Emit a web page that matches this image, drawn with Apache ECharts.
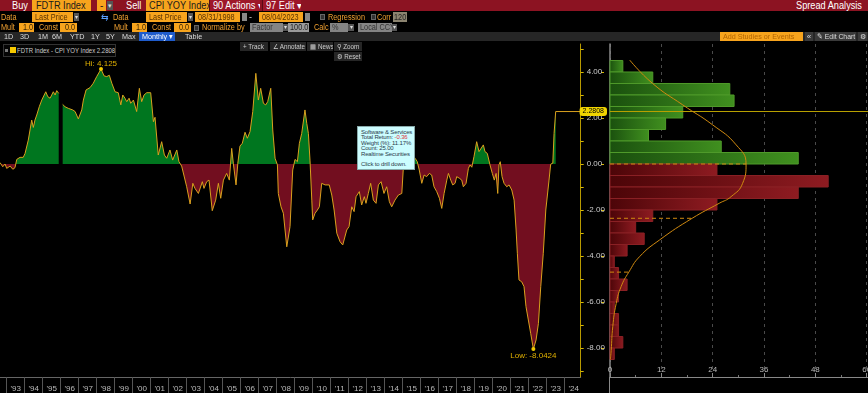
<!DOCTYPE html>
<html><head><meta charset="utf-8">
<script src="https://cdn.jsdelivr.net/npm/echarts@6/dist/echarts.min.js"></script>
<style>
html,body{margin:0;padding:0;background:#000;width:868px;height:393px;overflow:hidden;font-family:"Liberation Sans",Arial,sans-serif;}
#chart{position:absolute;left:0;top:0;width:868px;height:393px;}
.a{position:absolute;white-space:nowrap;overflow:hidden;box-sizing:border-box;z-index:5;}
.a span{display:inline-block;transform-origin:left center;}
</style></head>
<body>
<div id="chart"></div>
<script>
// ---------- DATA ----------
const dates = [1992.63,1992.78,1992.91,1993.00,1993.19,1993.34,1993.46,1993.56,1993.74,1993.92,
1994.02,1994.20,1994.39,1994.48,1994.57,1994.67,1994.81,1994.95,1995.04,1995.17,
1995.28,1995.41,1995.59,1995.69,1995.78,1995.89,1995.99,1996.11,1996.24,1996.42,
1996.52,1996.67,1996.80,1996.98,1997.17,1997.26,1997.41,1997.63,1997.81,1998.00,
1998.24,1998.41,1998.56,1998.70,1998.84,1999.02,1999.20,1999.34,1999.45,1999.57,
1999.67,1999.80,1999.89,2000.04,2000.22,2000.37,2000.50,2000.63,2000.78,2001.00,
2001.15,2001.24,2001.42,2001.61,2001.76,2001.89,2002.07,2002.22,2002.31,2002.45,
2002.57,2002.72,2002.81,2003.00,2003.19,2003.34,2003.46,2003.65,2003.87,2003.96,
2004.11,2004.24,2004.42,2004.61,2004.76,2004.89,2005.04,2005.22,2005.37,2005.50,
2005.59,2005.74,2005.84,2005.96,2006.09,2006.24,2006.37,2006.52,2006.67,2006.84,
2006.98,2007.11,2007.26,2007.39,2007.50,2007.67,2007.78,2007.91,2008.04,2008.09,
2008.24,2008.37,2008.56,2008.74,2008.89,2009.02,2009.15,2009.26,2009.39,2009.57,
2009.67,2009.76,2009.85,2009.95,2010.00,2010.13,2010.26,2010.37,2010.50,2010.69,
2010.92,2011.06,2011.19,2011.34,2011.52,2011.67,2011.76,2011.89,2012.02,2012.17,
2012.30,2012.41,2012.59,2012.72,2012.87,2012.96,2013.09,2013.22,2013.37,2013.52,
2013.65,2013.80,2013.96,2014.11,2014.26,2014.39,2014.57,2014.76,2014.95,2015.04,
2015.24,2015.46,2015.69,2015.81,2015.92,2016.06,2016.19,2016.33,2016.48,2016.61,
2016.74,2016.89,2017.04,2017.17,2017.30,2017.45,2017.54,2017.67,2017.78,2017.91,
2018.00,2018.15,2018.28,2018.37,2018.52,2018.65,2018.74,2018.84,2018.96,2019.11,
2019.24,2019.35,2019.48,2019.57,2019.70,2019.85,2019.98,2020.09,2020.19,2020.28,
2020.35,2020.42,2020.52,2020.63,2020.78,2020.91,2021.06,2021.19,2021.30,2021.37,
2021.46,2021.61,2021.74,2021.85,2021.98,2022.11,2022.26,2022.41,2022.54,2022.67,
2022.81,2022.95,2023.04,2023.13,2023.22,2023.34,2023.41,2023.50];
const spread = [0.06,-0.12,0.0,-0.19,-0.09,-0.23,-0.16,0.2,0.29,0.29,
0.46,1.04,1.91,1.59,1.91,2.13,2.49,2.78,2.71,3.14,
2.93,2.86,3.14,3.0,3.19,3.07,null,2.59,2.49,2.42,
2.49,2.35,2.28,1.96,2.35,2.78,3.22,3.32,3.51,3.8,
4.125,3.83,3.8,3.86,3.51,3.14,3.1,2.57,3.0,2.86,
2.71,2.86,2.64,2.78,2.28,3.29,2.71,3.0,3.1,3.1,
1.84,2.03,0.39,0.97,0.39,0.25,0.61,0.17,0.25,0.61,
0.1,-0.09,-0.12,-0.99,-1.74,-0.84,-1.06,-1.28,-0.77,-1.06,
-0.77,-0.7,-2.03,-1.57,-0.84,-1.49,-0.7,-0.41,-0.7,0.68,
0.03,-0.91,0.03,0.78,0.9,1.38,1.12,1.41,2.28,3.94,
2.78,3.29,2.64,2.57,2.71,3.29,1.48,0.25,-0.04,-1.28,
-1.86,-2.14,-3.6,-2.72,-0.26,0.2,0.1,0.9,1.33,2.35,
1.77,1.33,0.17,-1.57,-2.43,-2.14,-2.0,-1.86,-0.84,-0.91,
-0.91,-1.35,-2.0,-3.01,-3.38,-3.52,-3.6,-2.87,-2.72,-1.86,
-2.07,-1.42,-1.2,-1.78,-1.42,-1.71,-1.28,-0.84,-1.57,-1.71,
-0.91,-0.77,-1.28,-0.99,-1.64,-1.86,-1.57,-1.35,-1.28,-0.12,
0.15,0.2,0.25,0.1,-0.26,-0.84,-0.48,-0.55,-0.41,-0.48,
-0.99,-1.2,-1.49,-1.93,-1.28,-0.7,-0.41,-0.7,-0.91,-0.84,
-0.55,-0.62,-0.7,-0.99,-0.84,-0.19,-0.04,-0.14,0.32,0.97,
0.54,0.61,0.83,0.54,0.46,-0.04,-0.41,-0.7,-0.41,-1.28,
-0.04,0.1,-0.55,-0.84,-0.99,-0.91,-1.13,-1.57,-2.87,-3.88,
-5.04,-5.12,-5.33,-6.2,-6.78,-7.36,-8.0424,-7.65,-6.93,-5.33,
-3.88,-2.0,-1.93,-0.7,-0.01,0.04,1.33,2.2808];
const currentValue = 2.2808;
const lastValueExtendTo = 2024.89;   // flat "last value" line runs to the right edge
const yearLabels = ["'93","'94","'95","'96","'97","'98","'99","'00","'01","'02","'03","'04","'05","'06","'07","'08",
"'09","'10","'11","'12","'13","'14","'15","'16","'17","'18","'19","'20","'21","'22","'23","'24"];
const firstYear = 1993;
const yTickLabels = [-8,-6,-4,-2,0,2,4];
// histogram (bin lower edge, width 0.5) and counts
const binWidth = 0.5;
const binLows = [4.0,3.5,3.0,2.5,2.0,1.5,1.0,0.5,0.0,-0.5,-1.0,-1.5,-2.0,-2.5,-3.0,-3.5,-4.0,-4.5,-5.0,-5.5,-6.0,-6.5,-7.0,-7.5,-8.0,-8.5];
const binCounts = [3,10,28,29,17,13,9,26,44,25,51,44,25,10,6,8,4,1,2,4,2,1,2,2,3,1];
// fitted distribution curve
const curveValues = [4.52,3.51,2.57,1.7,0.83,0,-0.84,-1.42,-1.71,-2.36,-3.3,-4.03,-4.7,-5.33,-6.06,-7.07,-8.1,-8.5];
const curveCounts = [4.6,9.9,17,24,29.5,31.8,31,28.3,25.5,19.2,11.6,6.9,4.4,2.6,1.45,0.65,0.28,0.1];
// dashed reference levels (mean, -1 sd, -2 sd)
const refValues = [0,-2.36,-4.7];
const refCounts = [31.8,19.2,4.4];
const histTicks = [0,12,24,36,48,60];

// ---------- HEADER / UI (HTML text) ----------
function el(x,y,w,h,txt,st,sx){
  const d=document.createElement('div'); d.className='a';
  d.style.cssText='left:'+x+'px;top:'+y+'px;'+(w?'width:'+w+'px;':'')+(h?'height:'+h+'px;line-height:'+h+'px;':'')+(st||'');
  if (txt) { const s=document.createElement('span'); s.textContent=txt; if (sx) s.style.transform='scaleX('+sx+')'; d.appendChild(s); }
  document.body.appendChild(d); return d;
}
const OR='#f7a41d';
const R1='font-size:10px;';
const R2='font-size:8.5px;';
const OT='color:#f0a030;'+R2;
const S1=0.92, S2=0.86, S4=0.9;
// row 1
el(0,0,868,11,'','background:#8c1322;');
el(12,0,0,11,'Buy','color:#fff;'+R1,S1);
el(32,0,59,11,'FDTR Index','background:'+OR+';color:#1a1a1a;padding-left:4px;'+R1,S1);
el(97,0,9,11,'-','background:'+OR+';color:#1a1a1a;padding-left:3px;'+R1);
el(107,1,6,9,'▾','background:#555;color:#ddd;font-size:7px;text-align:center;');
el(126,0,0,11,'Sell','color:#fff;'+R1,S1);
el(146,0,63,11,'CPI YOY Index','background:'+OR+';color:#1a1a1a;padding-left:3px;'+R1,S1);
el(209,0,51,11,'90 Actions ▾','background:#9e1729;color:#fff;padding-left:3px;border-left:1px solid #5a0a14;'+R1,S1);
el(262,0,39,11,'97 Edit ▾','background:#9e1729;color:#fff;padding-left:3px;border-left:1px solid #5a0a14;'+R1,S1);
el(796,0,72,11,'Spread Analysis','color:#fff;'+R1,S1);
// row 2
el(1,12,0,10,'Data',OT,S2);
el(32,12,41,10,'Last Price','background:'+OR+';color:#5a3300;padding-left:3px;'+R2,S2);
el(74,13,5,8,'▾','background:#555;color:#ddd;font-size:6px;text-align:center;');
el(101,12,0,10,'⇆','color:#5aa0ff;font-size:9px;');
el(113,12,0,10,'Data',OT,S2);
el(146,12,41,10,'Last Price','background:'+OR+';color:#5a3300;padding-left:3px;'+R2,S2);
el(188,13,5,8,'▾','background:#555;color:#ddd;font-size:6px;text-align:center;');
el(195,12,45,10,'08/31/1998','background:'+OR+';color:#5a3300;padding-left:3px;'+R2,S2);
el(242,13,5,8,'','background:#888;');
el(249,12,0,10,'-','color:#ddd;font-size:9px;');
el(259,12,44,10,'08/04/2023','background:'+OR+';color:#5a3300;padding-left:3px;'+R2,S2);
el(305,13,5,8,'','background:#888;');
el(320,14,5,6,'','background:#333;border:1px solid #666;');
el(328,12,0,10,'Regression',OT,S2);
el(371,14,5,6,'','background:#333;border:1px solid #666;');
el(377,12,16,10,'Corr',OT,S2);
el(393,12,14,10,'120','background:#8c8470;color:#222;padding-left:1px;'+R2,S2);
// row 3
el(1,23,0,9,'Mult',OT,S2);
el(19,23,15,9,'1.0','background:'+OR+';color:#3a2500;padding-left:4px;'+R2,S2);
el(39,23,0,9,'Const',OT,S2);
el(60,23,17,9,'0.0','background:'+OR+';color:#3a2500;padding-left:5px;'+R2,S2);
el(114,23,0,9,'Mult',OT,S2);
el(132,23,15,9,'1.0','background:'+OR+';color:#3a2500;padding-left:4px;'+R2,S2);
el(152,23,0,9,'Const',OT,S2);
el(174,23,17,9,'0.0','background:'+OR+';color:#3a2500;padding-left:5px;'+R2,S2);
el(194,25,5,6,'','background:#333;border:1px solid #666;');
el(202,23,0,9,'Normalize by',OT,S2);
el(250,23,33,9,'Factor','background:#858585;color:#333;padding-left:2px;'+R2,S2);
el(283,24,5,7,'▾','background:#555;color:#ddd;font-size:6px;text-align:center;');
el(288,23,21,9,'100.0','background:#9a9a9a;color:#222;padding-left:2px;'+R2,S2);
el(314,23,16,9,'Calc',OT,S2);
el(330,23,18,9,'%','background:#858585;color:#333;padding-left:2px;'+R2,S2);
el(348,24,6,7,'▾','background:#555;color:#ddd;font-size:6px;text-align:center;');
el(358,23,34,9,'Local CCY','background:#858585;color:#333;padding-left:2px;'+R2,S2);
el(392,24,5,7,'▾','background:#555;color:#ddd;font-size:6px;text-align:center;');
// row 4
el(0,32,868,9,'','background:#262626;');
[['1D',4],['3D',20],['1M',38],['6M',52],['YTD',70],['1Y',91],['5Y',106],['Max',122],['Table',185]].forEach(function(t){el(t[1],32,0,9,t[0],'color:#ddd;font-size:8px;',S4);});
el(139,32,36,9,'Monthly ▾','background:#1f5ccc;color:#fff;font-size:8px;padding-left:3px;',S4);
el(720,32,83,9,'Add Studies or Events','background:'+OR+';color:#b36500;font-size:8px;padding-left:3px;',S4);
el(805,32,8,9,'«','background:#3a3a3a;color:#ddd;font-size:8px;text-align:center;');
el(815,32,41,9,'✎ Edit Chart','background:#3a3a3a;color:#ddd;font-size:8px;padding-left:2px;',0.85);
el(858,32,9,9,'⚙','background:#3a3a3a;color:#ddd;font-size:7px;text-align:center;');
// legend & chart toolbar
el(3,44,113,13,'','border:1px solid #333;background:#050505;');
el(5,49,3,3,'','background:#777;');
el(10,47,6,6,'','background:#f5c800;');
el(17,44,100,13,'FDTR Index - CPI YOY Index 2.2808','color:#ccc;font-size:7.5px;',0.8);
[['+ Track',240,28],['∠ Annotate',270,36],['▦ News',307,26],['⚲ Zoom',334,28]].forEach(function(b){el(b[1],42,b[2],9,b[0],'background:#262626;color:#ccc;font-size:7px;padding-left:3px;',0.9);});
el(334,52,28,9,'⚙ Reset','background:#262626;color:#ccc;font-size:7px;padding-left:3px;',0.9);
// histogram axis line continuing below the plot
el(609,377,1,16,'','background:#8a8a8a;');
// tooltip box
const tip = el(357,126,58,44,'','background:#ccfdff;border:1px solid #88aaaa;color:#2a3a4a;font-size:6px;line-height:5.4px;padding:3px 0 0 3px;letter-spacing:-0.15px;');
tip.innerHTML='Software &amp; Services<br>Total Return: <span style="color:#e03040">-0.36</span><br>Weight (%): 11.17%<br>Count: 25.00<br>Realtime Securities<br><br>Click to drill down.';

// ---------- CHART ----------
const chart = echarts.init(document.getElementById('chart'));
const FONT = '"Liberation Sans",Arial,sans-serif';
const YMIN = -9.26, YMAX = 5.217;
const areaData = dates.map(function(d,i){ return [d, spread[i] === null ? '-' : spread[i]]; });
const lineData = areaData.concat([[lastValueExtendTo, currentValue]]);
const tickYears = yearLabels.map(function(_,i){ return firstYear + i; });
const labelYears = yearLabels.map(function(_,i){ return firstYear + i + 0.5; });
const intTicks = []; for (let v = -9; v <= 5; v++) intTicks.push(v);
const histData = binLows.map(function(b,i){ return [binCounts[i], b, b + binWidth]; });
const curveData = curveValues.map(function(v,i){ return [curveCounts[i], v]; });

const refSeries = refValues.map(function(v,i){
  return {type:'line', xAxisIndex:1, yAxisIndex:1, data:[[0,v],[refCounts[i],v]], symbol:'none', silent:true,
    lineStyle:{color:'#d08a10', width:1, type:[4,3]}, z:4};
});

chart.setOption({
  backgroundColor:'#000',
  animation:false,
  textStyle:{fontFamily:FONT},
  grid:[
    {left:0, top:44, width:580.7, height:333, outerBoundsMode:'none'},
    {left:610, top:44, width:258, height:333, outerBoundsMode:'none'}
  ],
  visualMap:{show:false, seriesIndex:0, dimension:1,
    pieces:[{gt:0, lte:50, color:'#00761f'},{gte:-50, lte:0, color:'#720e1f'}]},
  xAxis:[
    {gridIndex:0, type:'value', min:1992.628, max:2024.889,
      axisLine:{show:true, onZero:false, lineStyle:{color:'#666'}},
      axisTick:{show:true, customValues:tickYears, length:16, lineStyle:{color:'#555'}},
      axisLabel:{customValues:labelYears, color:'#bbb', fontSize:8, margin:8, fontFamily:FONT,
        formatter:function(v){ const i = Math.round(v - 0.5) - firstYear; return yearLabels[i] || ''; }},
      splitLine:{show:false}},
    {gridIndex:1, type:'value', min:0, max:60.3, interval:12,
      axisLine:{show:true, onZero:false, lineStyle:{color:'#888'}},
      axisTick:{show:true, inside:true, length:4, lineStyle:{color:'#888'}},
      minorTick:{show:true, splitNumber:2, length:2, lineStyle:{color:'#777'}},
      axisLabel:{inside:true, color:'#bbb', fontSize:8, margin:3, fontFamily:FONT, customValues:histTicks,
        formatter:function(v){ return String(v); }},
      splitLine:{show:true, lineStyle:{color:'#4a4a4a', type:[3,4]}}}
  ],
  yAxis:[
    {gridIndex:0, type:'value', position:'right', min:YMIN, max:YMAX,
      axisLine:{show:true, onZero:false, lineStyle:{color:'#b89a00'}},
      axisTick:{show:true, customValues:intTicks, length:3, lineStyle:{color:'#d8b800'}},
      axisLabel:{customValues:yTickLabels, color:'#ccc', fontSize:8, margin:6, fontFamily:FONT,
        formatter:function(v){ return v.toFixed(2); }},
      splitLine:{show:false}},
    {gridIndex:1, type:'value', position:'left', min:YMIN, max:YMAX,
      axisLine:{show:true, onZero:false, lineStyle:{color:'#8a8a8a', width:1.5}},
      axisTick:{show:false}, axisLabel:{show:false}, splitLine:{show:false}},
    {gridIndex:1, type:'value', position:'left', offset:6, min:YMIN, max:YMAX,
      axisLine:{show:false, onZero:false},
      axisTick:{show:true, customValues:yTickLabels, length:3, lineStyle:{color:'#d8b800'}},
      axisLabel:{show:false}, splitLine:{show:false}}
  ],
  series:[
    {type:'line', xAxisIndex:0, yAxisIndex:0, data:areaData, showSymbol:false, connectNulls:false,
      lineStyle:{width:0, opacity:0}, areaStyle:{opacity:1, origin:0}, silent:true, z:2},
    {type:'line', xAxisIndex:0, yAxisIndex:0, data:lineData, showSymbol:false, connectNulls:false,
      lineStyle:{color:'#d9a11e', width:1}, itemStyle:{color:'#d9a11e'}, silent:true, z:3,
      markPoint:{symbol:'circle', symbolSize:4, precision:4, itemStyle:{color:'#f0c800'},
        label:{show:true, color:'#e0b000', fontSize:8, fontFamily:FONT, distance:1},
        data:[{type:'max', label:{position:'top', offset:[0,2], formatter:'Hi: {c}'}},
              {type:'min', label:{position:'bottom', formatter:'Low: {c}'}}]}},
    {type:'custom', xAxisIndex:1, yAxisIndex:1, data:histData, encode:{x:0, y:[1,2]}, silent:true, z:2,
      renderItem:function(params, api){
        const c = api.value(0), lo = api.value(1), hi = api.value(2);
        const p0 = api.coord([0, hi]), p1 = api.coord([c, lo]);
        const pos = lo >= 0;
        return {type:'rect',
          shape:{x:p0[0], y:p0[1], width:p1[0]-p0[0], height:p1[1]-p0[1]},
          style:{fill:new echarts.graphic.LinearGradient(0,0,1,0,[
              {offset:0, color: pos ? '#1a500e' : '#4c0508'},
              {offset:1, color: pos ? '#40901f' : '#8e1b21'}]),
            stroke: pos ? '#4f9a2a' : '#8a2024', lineWidth:1}};
      }},
    {type:'line', xAxisIndex:1, yAxisIndex:1, data:curveData, smooth:true, showSymbol:false, silent:true,
      lineStyle:{color:'#d08a10', width:1}, z:5,
      markLine:{silent:true, symbol:['none','none'],
        lineStyle:{color:'#b8a000', width:1, type:'solid'},
        label:{show:true, position:'start', distance:3, formatter:String(currentValue),
          backgroundColor:'#f0d400', color:'#000', fontSize:7, padding:[1,3], borderRadius:3, fontFamily:FONT},
        data:[{yAxis:currentValue}]}}
  ].concat(refSeries)
});
</script>
</body></html>
